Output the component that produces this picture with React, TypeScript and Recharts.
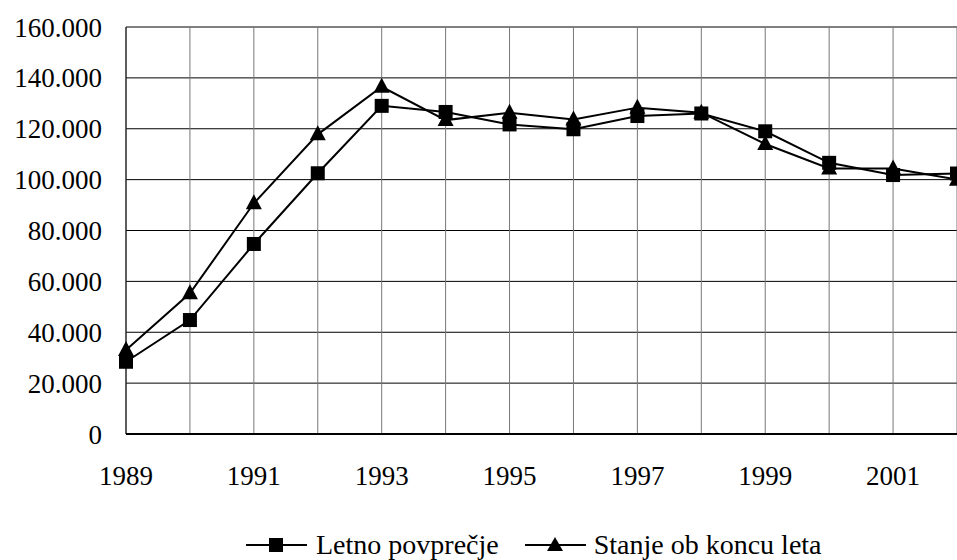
import { LineChart, Line, XAxis, YAxis, CartesianGrid, Legend } from 'recharts';

// leta, vrednosti odčitane s slike
const years = [1989, 1990, 1991, 1992, 1993, 1994, 1995, 1996, 1997, 1998, 1999, 2000, 2001, 2002];
const letnoPovprecje = [28400, 44800, 74700, 102500, 129000, 126600, 121700, 119800, 125000, 126000, 119000, 106600, 101800, 102400];
const stanjeObKoncu = [33000, 55300, 90700, 117800, 136500, 123400, 126300, 123600, 128300, 126300, 114000, 104400, 104400, 100000];
const yTicks = [0, 20000, 40000, 60000, 80000, 100000, 120000, 140000, 160000];
const seriesNames = ['Letno povprečje', 'Stanje ob koncu leta'];

const data = years.map((year, i) => ({
  year,
  letno: letnoPovprecje[i],
  stanje: stanjeObKoncu[i],
}));

const FONT = '"Liberation Serif", "DejaVu Serif", serif';

const fmtThousands = (v: number) =>
  v === 0 ? '0' : String(v).replace(/\B(?=(\d{3})+(?!\d))/g, '.');

const SquareDot = (props: any) => {
  const { cx, cy, index } = props;
  if (cx == null || cy == null) return null;
  return <rect key={`sq-${index}`} x={cx - 7} y={cy - 7} width={14} height={14} fill="#000" />;
};

const TriangleDot = (props: any) => {
  const { cx, cy, index } = props;
  if (cx == null || cy == null) return null;
  return (
    <polygon
      key={`tr-${index}`}
      points={`${cx},${cy - 9} ${cx + 8},${cy + 6} ${cx - 8},${cy + 6}`}
      fill="#000"
    />
  );
};

const LegendIcon = ({ kind }: { kind: 'square' | 'triangle' }) => (
  <svg width={61} height={20} style={{ display: 'block' }}>
    <line x1={0} y1={10} x2={61} y2={10} stroke="#000" strokeWidth={2} />
    {kind === 'square' ? (
      <rect x={23} y={3} width={14} height={14} fill="#000" />
    ) : (
      <polygon points="30,2 38,16 22,16" fill="#000" />
    )}
  </svg>
);

const CustomLegend = () => (
  <div
    style={{
      height: 30,
      display: 'flex',
      alignItems: 'center',
      justifyContent: 'flex-start',
      fontFamily: FONT,
      fontSize: 28,
      color: '#000',
      paddingLeft: 246,
      whiteSpace: 'nowrap',
    }}
  >
    <LegendIcon kind="square" />
    <span style={{ marginLeft: 9, marginRight: 26 }}>{seriesNames[0]}</span>
    <LegendIcon kind="triangle" />
    <span style={{ marginLeft: 8 }}>{seriesNames[1]}</span>
  </div>
);

export default function App() {
  return (
    <div style={{ position: 'absolute', left: 0, top: 0, width: 957, height: 560, background: '#fff' }}>
      <LineChart
        width={957}
        height={560}
        data={data}
        margin={{ top: 27, right: 0, left: 0, bottom: 0 }}
      >
        <CartesianGrid stroke="#000" strokeWidth={1} vertical={false} />
        <CartesianGrid stroke="#777" strokeWidth={1} horizontal={false} />
        <XAxis
          dataKey="year"
          type="number"
          domain={[1989, 2002]}
          ticks={years}
          interval={0}
          tickFormatter={(v: number) => ((v - 1989) % 2 === 0 ? String(v) : '')}
          tickLine={false}
          tickMargin={26}
          height={96}
          axisLine={{ stroke: '#000', strokeWidth: 2 }}
          tick={{ fill: '#000', fontFamily: FONT, fontSize: 27 }}
        />
        <YAxis
          type="number"
          domain={[0, 160000]}
          ticks={yTicks}
          interval={0}
          width={126}
          tickFormatter={fmtThousands}
          tickLine={false}
          tickMargin={18}
          axisLine={{ stroke: '#000', strokeWidth: 1 }}
          tick={{ fill: '#000', fontFamily: FONT, fontSize: 27 }}
        />
        <Legend verticalAlign="bottom" content={<CustomLegend />} />
        <Line
          dataKey="letno"
          name={seriesNames[0]}
          type="linear"
          stroke="#000"
          strokeWidth={2}
          dot={<SquareDot />}
          isAnimationActive={false}
        />
        <Line
          dataKey="stanje"
          name={seriesNames[1]}
          type="linear"
          stroke="#000"
          strokeWidth={2}
          dot={<TriangleDot />}
          isAnimationActive={false}
        />
      </LineChart>
    </div>
  );
}
